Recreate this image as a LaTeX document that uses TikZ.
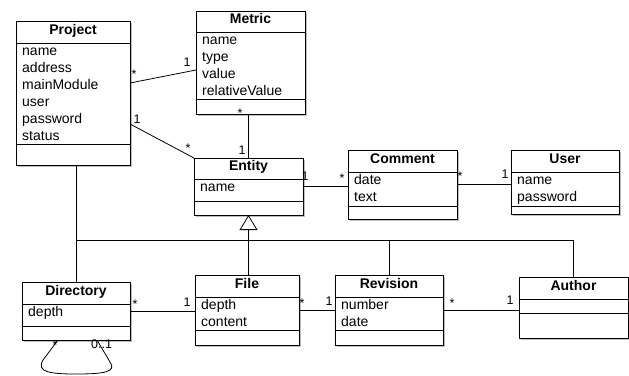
\documentclass[tikz,border=0pt]{standalone}
\usepackage{fontspec}
\setmainfont{Liberation Sans}
\usetikzlibrary{shadows,arrows.meta,calc}
\tikzset{
 classbox/.style={draw=black, line width=1pt, fill=white, inner sep=0pt, outer sep=0pt, anchor=north west,
   drop shadow={shadow xshift=1.8pt, shadow yshift=-1.8pt, fill=black!50, opacity=0.5}},
 ctitle/.style={font=\fontsize{14}{17}\selectfont\bfseries, anchor=base, inner sep=0pt},
 cattr/.style={font=\fontsize{14}{17}\selectfont, anchor=base west, inner sep=0pt},
 assoc/.style={line width=0.8pt},
 mult/.style={font=\fontsize{12.5}{14}\selectfont, anchor=base, inner sep=0pt},
}
\newcommand{\umlclass}[9]{%
 \node[classbox, minimum width={#4-#2}, minimum height={#5-#3}] (#1) at (#2,#3) {};
 \draw[line width=0.8pt] (#2,#6) -- (#4,#6);
 \draw[line width=0.8pt] (#2,#7) -- (#4,#7);
 \node[ctitle] (#1-title) at ({(#2+#4)/2},#6-8.5) {#8};
 \foreach \a [count=\i from 0] in {#9} {\node[cattr] (#1-a\i) at (#2+6,#6+12+17*\i) {\a};}
}
\begin{document}
\begin{tikzpicture}[x=1pt,y=-1pt]
\useasboundingbox (0,0) rectangle (629,375);
\umlclass{proj}{16}{21}{130}{165}{43}{144}{Project}{name,address,mainModule,user,password,status}
\umlclass{metric}{196}{11}{305}{114}{32}{99}{Metric}{name,type,value,relativeValue}
\umlclass{entity}{194}{158}{303}{215}{179}{201}{Entity}{name}
\umlclass{comment}{348}{150}{457}{219}{172}{206}{Comment}{date,text}
\umlclass{user}{511}{150}{619}{214}{172}{206}{User}{name,password}
\umlclass{dir}{22}{282}{130}{340}{304}{326}{Directory}{depth}
\umlclass{file}{195}{275}{299}{345}{297}{330}{File}{depth,content}
\umlclass{rev}{335}{275}{443}{345}{297}{330}{Revision}{number,date}
\node[classbox, minimum width=109, minimum height=61] (author) at (519,277) {};
\draw[line width=0.8pt] (519,299) -- (628,299);
\draw[line width=0.8pt] (519,313) -- (628,313);
\node[ctitle] (author-title) at (573.5,290.5) {Author};

% associations
\draw[assoc] ($(proj.north east)+(0,62)$) -- ($(metric.north west)+(0,59)$);
\draw[assoc] ($(proj.north east)+(0,103)$) -- (entity.north west);
\draw[assoc] (metric.south -| entity.north) -- (entity.north);
\draw[assoc] (entity.east) -- (entity.east -| comment.west);
\draw[assoc] (comment.east) -- (comment.east -| user.west);
\draw[assoc] (dir.east) -- (dir.east -| file.west);
\draw[assoc] (file.east) -- (file.east -| rev.west);
\draw[assoc] (rev.east) -- (rev.east -| author.west);
\draw[assoc] (proj.south -| dir.north) -- (dir.north);
% self loop
\coordinate (loopA) at ($(dir.south west)+(36,0)$);
\coordinate (loopB) at ($(dir.south west)+(75,0)$);
\draw[assoc] (loopA) -- (43,360) .. controls (36,372) and (50,374) .. (76,374)
   .. controls (104,374) and (117,372) .. (110,362) -- (loopB);

% generalization
\coordinate (bus) at (entity.south |- 0,240);
\draw[assoc, -{Triangle[open, length=15pt, width=18pt, fill=white]}] (entity.south |- file.north) -- (entity.south);
\draw[assoc] (dir.north |- bus) -- (author.north |- bus);
\draw[assoc] (rev.north) -- (rev.north |- bus);
\draw[assoc] (author.north) -- (author.north |- bus);

% multiplicities
\foreach \x/\y [count=\k] in {187/66,137/123,242/154,305/180,505/178,187/306,329/305,510/304}
  \node[mult] (one\k) at (\x,\y) {1};
\foreach \x/\y [count=\k] in {134/71,188/145,240/110,342/175,460/173,135/301,302/300,452/300,55/342}
  \node[mult] (star\k) at (\x,\y+7) {*};
\node[mult, anchor=base west] (zeroone) at (91,348) {0..1};
\end{tikzpicture}
\end{document}
